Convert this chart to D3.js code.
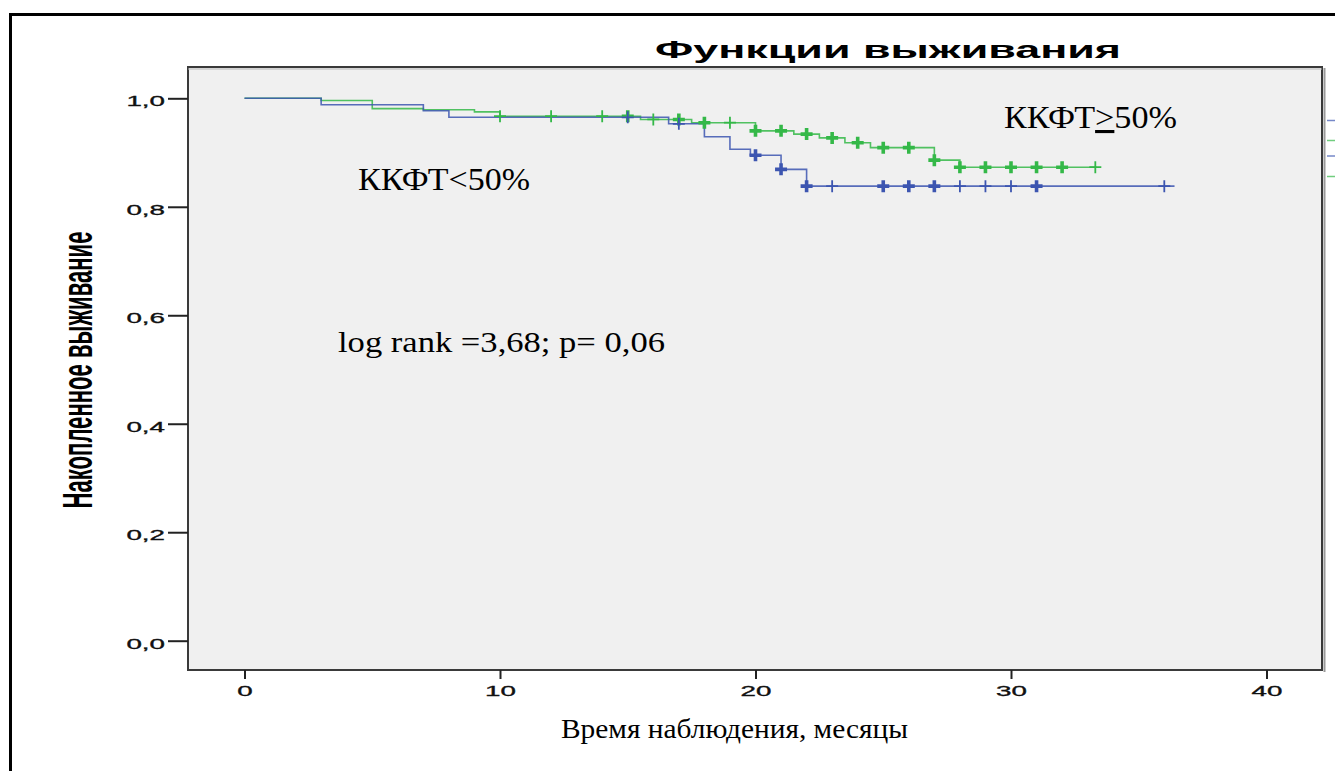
<!DOCTYPE html>
<html>
<head>
<meta charset="utf-8">
<script src="https://cdn.jsdelivr.net/npm/d3@7"></script>
<style>
  html, body { margin: 0; padding: 0; background: #ffffff; overflow: hidden; }
  svg { display: block; }
</style>
</head>
<body>
<svg id="chart" width="1335" height="771"></svg>
<script>
// ---------------- DATA ----------------
const titleText = "Функции выживания";
const xAxisTitle = "Время наблюдения, месяцы";
const yAxisTitle = "Накопленное выживание";
const timeTicks = [0, 10, 20, 30, 40];
const survTicks = [0, 0.2, 0.4, 0.6, 0.8, 1.0];

// Group 1: ККФТ<50% (blue)
const lowTimes = [0, 3, 7, 8, 16.6, 18, 19, 19.8, 21, 22, 36.4];
const lowSurv  = [1.0, 0.988, 0.977, 0.965, 0.953, 0.929, 0.906, 0.895, 0.869, 0.838, 0.838];
const lowCensorTimes  = [15, 17, 20, 21, 22, 23, 25, 26, 27, 28, 29, 30, 31, 36];
const lowCensorCounts = [1, 1, 2, 2, 2, 1, 2, 2, 2, 1, 1, 1, 2, 1];

// Group 2: ККФТ≥50% (green)
const highTimes = [0, 3, 5, 7, 9, 10, 15.5, 17.5, 20, 21.5, 22.5, 23.5, 24.5, 27, 28, 33.35];
const highSurv  = [1.0, 0.996, 0.981, 0.979, 0.975, 0.967, 0.961, 0.955, 0.940, 0.934, 0.927, 0.918, 0.909, 0.886, 0.873, 0.873];
const highCensorTimes  = [10, 12, 14, 15, 16, 17, 18, 19, 20, 21, 22, 23, 24, 25, 26, 27, 28, 29, 30, 31, 32, 33.3];
const highCensorCounts = [1, 1, 1, 2, 1, 2, 2, 1, 2, 2, 2, 2, 2, 2, 2, 2, 2, 2, 2, 2, 2, 1];

const groupColors = ["#3c55b0", "#34b848"];
const annotationLow = "ККФТ<50%";
const annotationHigh = ["ККФТ", ">", "50%"];
const annotationTest = "log rank =3,68; p= 0,06";

// ---------------- DRAW ----------------
const svg = d3.select("#chart");
const sansFont = "'Liberation Sans', Arial, sans-serif";
const serifFont = "'Liberation Serif', 'Times New Roman', serif";
const stretch = 1.85;

// outer frame
svg.append("rect")
  .attr("x", 10.5).attr("y", 14.5)
  .attr("width", 1400).attr("height", 800)
  .attr("fill", "none").attr("stroke", "#000").attr("stroke-width", 3);

const plot = { left: 188, top: 67, right: 1322, bottom: 670 };

const x = d3.scaleLinear().domain([0, 40]).range([244.5, 1266.5]);
const y = d3.scaleLinear().domain([0, 1]).range([640.7, 98.3]);

// plot background
svg.append("rect")
  .attr("x", plot.left).attr("y", plot.top)
  .attr("width", plot.right - plot.left).attr("height", plot.bottom - plot.top)
  .attr("fill", "#f0f0f0").attr("stroke", "#3a3a3a").attr("stroke-width", 2);
svg.append("line")
  .attr("x1", plot.right + 2.5).attr("x2", plot.right + 2.5)
  .attr("y1", plot.top + 1).attr("y2", plot.bottom + 2)
  .attr("stroke", "#9a9a9a").attr("stroke-width", 2);
svg.append("line")
  .attr("x1", plot.left).attr("x2", plot.right)
  .attr("y1", plot.top + 2).attr("y2", plot.top + 2)
  .attr("stroke", "#b5b5b5").attr("stroke-width", 1);

// title
svg.append("text")
  .attr("x", 655).attr("y", 58)
  .attr("font-family", sansFont).attr("font-weight", "bold").attr("font-size", 24)
  .attr("textLength", 466).attr("lengthAdjust", "spacingAndGlyphs")
  .attr("fill", "#000")
  .text(titleText);

// x axis
const xAxis = svg.append("g")
  .attr("transform", `translate(0,${plot.bottom})`)
  .call(d3.axisBottom(x).tickValues(timeTicks).tickSize(9).tickPadding(6).tickFormat(d3.format("d")));
xAxis.select(".domain").remove();
xAxis.selectAll(".tick line").attr("stroke", "#222").attr("stroke-width", 2);
xAxis.selectAll(".tick text")
  .attr("font-family", sansFont).attr("font-size", 15).attr("fill", "#111")
  .attr("stroke", "#111").attr("stroke-width", 0.35)
  .attr("transform", `scale(${stretch},1)`);

// y axis
const yAxis = svg.append("g")
  .attr("transform", `translate(${plot.left},0)`)
  .call(d3.axisLeft(y).tickValues(survTicks).tickSize(20).tickPadding(3)
    .tickFormat(d => d3.format(".1f")(d).replace(".", ",")));
yAxis.select(".domain").remove();
yAxis.selectAll(".tick line").attr("stroke", "#222").attr("stroke-width", 2);
yAxis.selectAll(".tick text")
  .attr("font-family", sansFont).attr("font-size", 15).attr("fill", "#111")
  .attr("stroke", "#111").attr("stroke-width", 0.35)
  .attr("x", -23 / stretch).attr("dy", "0.5em")
  .attr("transform", `scale(${stretch},1)`);

// y axis title: rotated, glyphs widened as in the stretched original
const yTitle = svg.append("text")
  .attr("text-anchor", "middle")
  .attr("font-family", sansFont).attr("font-weight", "bold").attr("font-size", 24)
  .attr("fill", "#000")
  .text(yAxisTitle);
const yTitleLen = yTitle.node().getComputedTextLength() || 277;
yTitle.attr("transform", `translate(92,370) rotate(-90) scale(${277 / yTitleLen},1.75)`);

svg.append("text")
  .attr("x", 561).attr("y", 738)
  .attr("font-family", serifFont).attr("font-size", 27)
  .attr("textLength", 347).attr("lengthAdjust", "spacingAndGlyphs")
  .attr("fill", "#000")
  .text(xAxisTitle);

// survival curves
function series(times, surv) { return times.map((t, i) => ({ t, s: surv[i] })); }
function stepValue(times, surv, t) {
  let v = surv[0];
  for (let i = 0; i < times.length; i++) if (times[i] <= t + 1e-9) v = surv[i];
  return v;
}
const line = d3.line().x(d => x(d.t)).y(d => y(d.s)).curve(d3.curveStepAfter);

const groups = [
  { times: highTimes, surv: highSurv, ct: highCensorTimes, cc: highCensorCounts, color: groupColors[1] },
  { times: lowTimes, surv: lowSurv, ct: lowCensorTimes, cc: lowCensorCounts, color: groupColors[0] }
];

groups.forEach(g => {
  svg.append("path")
    .datum(series(g.times, g.surv))
    .attr("d", line)
    .attr("fill", "none")
    .attr("stroke", g.color)
    .attr("stroke-width", 1.6)
    .attr("stroke-opacity", 0.85);
});

groups.forEach(g => {
  const cens = g.ct.map((t, i) => ({ t, n: g.cc[i], s: stepValue(g.times, g.surv, t) }));
  svg.append("g").selectAll("path")
    .data(cens)
    .join("path")
    .attr("d", d => {
      const cx = x(d.t), cy = y(d.s);
      return `M${cx - 6},${cy}H${cx + 6}M${cx},${cy - 6}V${cy + 6}`;
    })
    .attr("fill", "none")
    .attr("stroke", g.color)
    .attr("stroke-width", d => d.n > 1 ? 3.6 : 1.8);
});

// annotations
svg.append("text")
  .attr("x", 358).attr("y", 190)
  .attr("font-family", serifFont).attr("font-size", 31)
  .attr("textLength", 172).attr("lengthAdjust", "spacingAndGlyphs")
  .attr("fill", "#000")
  .text(annotationLow);

const hi = svg.append("text")
  .attr("x", 1004).attr("y", 128)
  .attr("font-family", serifFont).attr("font-size", 31)
  .attr("textLength", 173).attr("lengthAdjust", "spacingAndGlyphs")
  .attr("fill", "#000");
hi.append("tspan").text(annotationHigh[0]);
hi.append("tspan").style("text-decoration", "underline").text(annotationHigh[1]);
hi.append("tspan").text(annotationHigh[2]);

svg.append("text")
  .attr("x", 338).attr("y", 352)
  .attr("font-family", serifFont).attr("font-size", 30)
  .attr("textLength", 327).attr("lengthAdjust", "spacingAndGlyphs")
  .attr("fill", "#000")
  .text(annotationTest);

// legend (cut off at the right edge of the picture)
const legendColors = [groupColors[0], groupColors[1], groupColors[0], groupColors[1]];
const legendRows = [120.5, 140.5, 156, 176.5];
svg.append("g").selectAll("line")
  .data(legendColors)
  .join("line")
  .attr("x1", 1327).attr("x2", 1345)
  .attr("y1", (d, i) => legendRows[i]).attr("y2", (d, i) => legendRows[i])
  .attr("stroke", d => d).attr("stroke-width", 1.5).attr("stroke-opacity", 0.7);
</script>
</body>
</html>
